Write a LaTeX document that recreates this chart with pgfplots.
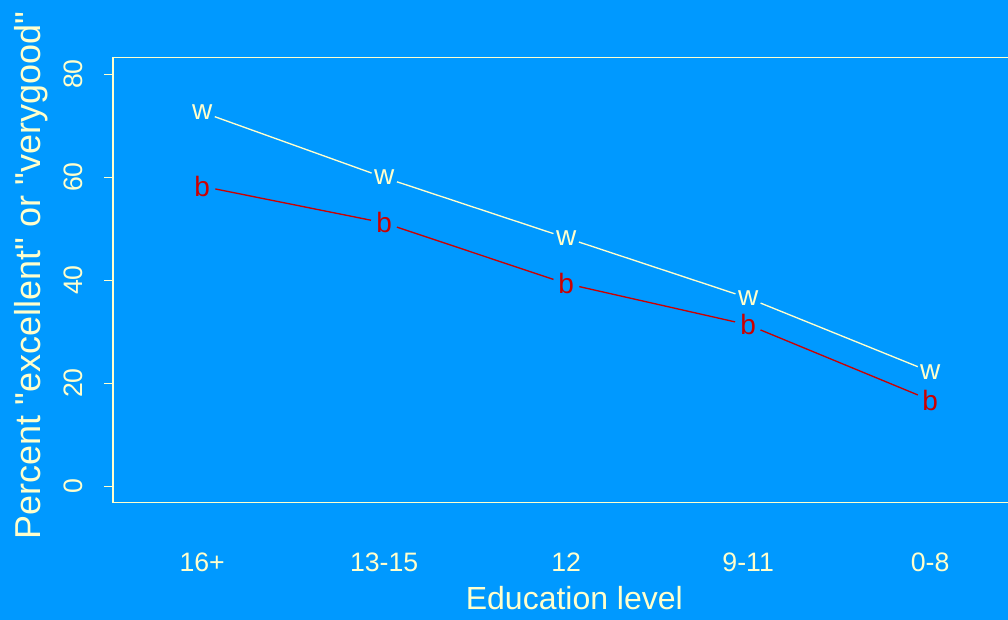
\documentclass[border=0pt]{standalone}
\usepackage{fontspec}
\setmainfont{Liberation Sans}[Ligatures=TeXOff]
\usepackage{pgfplots}
\pgfplotsset{compat=1.18}
\definecolor{bgblue}{RGB}{0,153,255}
\definecolor{cream}{RGB}{255,255,204}
\definecolor{dred}{RGB}{204,0,0}
\begin{document}
\begin{tikzpicture}
\fill[bgblue] (0,0) rectangle (756pt,465pt);
\begin{scope}[overlay]
\clip (0,0) rectangle (756pt,465pt);
\begin{axis}[
  at={(84.75pt,88.1pt)}, anchor=south west,
  x=136.5pt, y=3.8625pt,
  xmin=0.51, xmax=5.49, ymin=-3.2, ymax=83.2,
  axis line style={cream, line width=1pt},
  xtick={1,2,3,4,5},
  xticklabels={16+,13-15,12,9-11,0-8},
  x tick style={draw=none},
  ytick={0,20,40,60,80},
  y tick style={cream, line width=0.8pt},
  tick align=outside, major tick length=6.5pt,
  ytick pos=left, xtick pos=bottom,
  /pgf/number format/assume math mode=true,
  ticklabel style={text=cream, font=\fontsize{20}{24}\selectfont},
  xticklabel style={anchor=base, yshift=-45pt},
  yticklabel style={xshift=-16pt, rotate=90, anchor=base},
  xlabel={Education level},
  ylabel={Percent \symbol{34}excellent\symbol{34} or \symbol{34}verygood\symbol{34}},
  every axis y label/.style={at={(axis description cs:-0.0805,0.51)}, anchor=base, rotate=90, text=cream, font=\fontsize{27}{31}\selectfont},
  every axis x label/.style={at={(axis description cs:0.509,-0.2394)}, anchor=base, text=cream, font=\fontsize{24}{28}\selectfont},
  clip=false,
]
\addplot[cream, line width=1pt, mark=none] coordinates {(1,72.6) (2,59.9) (3,48.2) (4,36.5) (5,22.2)};
\addplot[dred, line width=1pt, mark=none] coordinates {(1,58.2) (2,51.1) (3,39.3) (4,31.3) (5,16.7)};
\addplot[draw=none, mark=none, nodes near coords={w},
  every node near coord/.style={anchor=center, circle, fill=bgblue, inner sep=0pt, minimum size=20pt, text=cream, font=\fontsize{21}{24}\selectfont}]
  coordinates {(1,72.6) (2,59.9) (3,48.2) (4,36.5) (5,22.2)};
\addplot[draw=none, mark=none, nodes near coords={b},
  every node near coord/.style={anchor=center, circle, fill=bgblue, inner sep=0pt, minimum size=20pt, text=dred, font=\fontsize{21}{24}\selectfont}]
  coordinates {(1,58.2) (2,51.1) (3,39.3) (4,31.3) (5,16.7)};
\end{axis}
\end{scope}
\end{tikzpicture}
\end{document}
